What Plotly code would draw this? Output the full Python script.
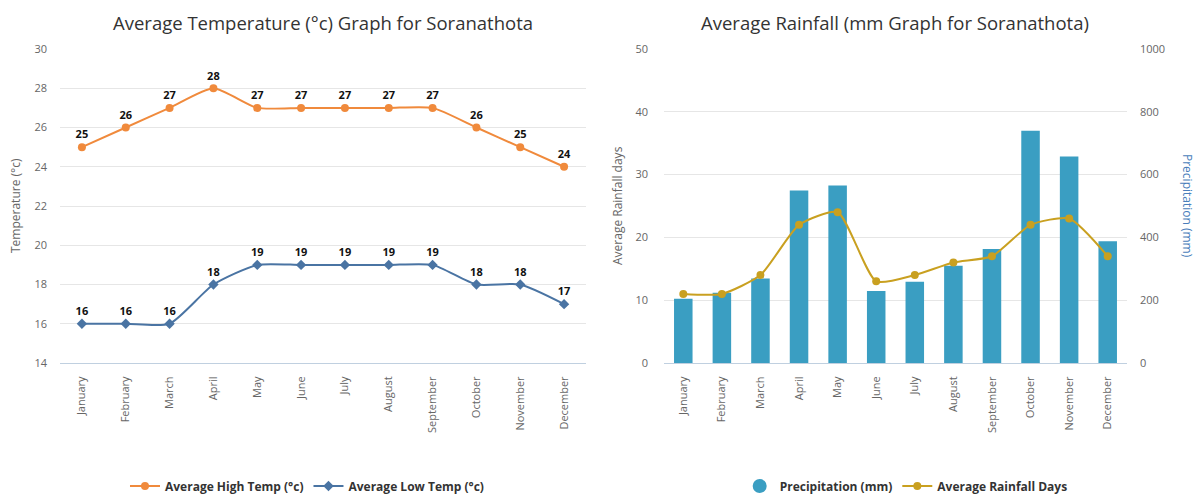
import plotly.graph_objects as go

months = ["January", "February", "March", "April", "May", "June", "July",
          "August", "September", "October", "November", "December"]
high_temp = [25, 26, 27, 28, 27, 27, 27, 27, 27, 26, 25, 24]
low_temp = [16, 16, 16, 18, 19, 19, 19, 19, 19, 18, 18, 17]
precip_mm = [205, 224, 269, 549, 565, 229, 259, 310, 363, 740, 658, 388]
rain_days = [11, 11, 14, 22, 24, 13, 14, 16, 17, 22, 23, 17]

temp_ticks = [14, 16, 18, 20, 22, 24, 26, 28, 30]
days_ticks = [0, 10, 20, 30, 40, 50]
precip_ticks = [0, 200, 400, 600, 800, 1000]

# page has an 8px body margin; figure sized so it fills the 1201x495 window
OFF = 8
W, H = 1201 - OFF, 495 - OFF
ML, MT = 60 - OFF, 49 - OFF
MR = W + OFF - 1127
MB = H + OFF - 363
pw = W - ML - MR
d1 = [0, (586 - 60) / pw]
d2 = [(664 - 60) / pw, 1]

ORANGE = "#F08A3C"
BLUE = "#4A74A3"
BAR = "#3A9EC2"
GOLD = "#C9A020"
FONT = "Open Sans"

fig = go.Figure()
fig.add_trace(go.Scatter(
    x=months, y=high_temp, name="Average High Temp (°c)", mode="lines+markers+text",
    line=dict(color=ORANGE, width=2, shape="spline", smoothing=0.6),
    marker=dict(color=ORANGE, size=8, symbol="circle"),
    text=[str(v) for v in high_temp], textposition="top center",
    textfont=dict(family=FONT, size=11, color="#111"),
    texttemplate="<b>%{text}</b>", xaxis="x", yaxis="y", legend="legend"))
fig.add_trace(go.Scatter(
    x=months, y=low_temp, name="Average Low Temp (°c)", mode="lines+markers+text",
    line=dict(color=BLUE, width=2, shape="spline", smoothing=0.6),
    marker=dict(color=BLUE, size=8, symbol="diamond"),
    text=[str(v) for v in low_temp], textposition="top center",
    textfont=dict(family=FONT, size=11, color="#111"),
    texttemplate="<b>%{text}</b>", xaxis="x", yaxis="y", legend="legend"))
# precipitation on the base (right-side) axis so the rainfall-days line draws over it
fig.add_trace(go.Bar(
    x=months, y=precip_mm, name="Precipitation (mm)", marker=dict(color=BAR, line=dict(width=0)),
    width=0.48, xaxis="x2", yaxis="y2", legend="legend2", showlegend=False))
# legend-only entry so the key shows a round swatch like the reference
fig.add_trace(go.Scatter(
    x=[months[0]], y=[None], name="Precipitation (mm)", mode="markers",
    marker=dict(color=BAR, size=14, symbol="circle"), xaxis="x2", yaxis="y2",
    legend="legend2", hoverinfo="skip"))
fig.add_trace(go.Scatter(
    x=months, y=rain_days, name="Average Rainfall Days", mode="lines+markers",
    line=dict(color=GOLD, width=2, shape="spline", smoothing=0.6),
    marker=dict(color=GOLD, size=8), xaxis="x2", yaxis="y3", legend="legend2"))

axis_font = dict(family=FONT, size=11, color="#666")
xcommon = dict(type="category", tickangle=-90, tickfont=axis_font, showgrid=False,
               showline=True, linecolor="#C0D0E0", ticks="", ticklen=0, fixedrange=True,
               range=[-0.5, 11.5], ticklabelstandoff=8, automargin=False)
ycommon = dict(showgrid=True, gridcolor="#E6E6E6", zeroline=False, tickfont=axis_font,
               showline=False, ticks="", fixedrange=True, automargin=False)

leg_font = dict(family=FONT, size=12, color="#333", weight="bold")
leg_y = (495 - 486) / H

fig.update_layout(
    width=W, height=H, autosize=False,
    margin=dict(l=ML, r=MR, t=MT, b=MB, autoexpand=False),
    paper_bgcolor="white", plot_bgcolor="white",
    font=dict(family=FONT, color="#333"),
    xaxis=dict(domain=d1, anchor="y", **xcommon),
    xaxis2=dict(domain=d2, anchor="y2", **xcommon),
    yaxis=dict(domain=[0, 1], anchor="x", range=[14, 30], tickvals=temp_ticks,
               ticklabelstandoff=12, **ycommon),
    yaxis2=dict(domain=[0, 1], anchor="x2", side="right", range=[0, 1000],
                tickvals=precip_ticks, ticklabelstandoff=12, **ycommon),
    yaxis3=dict(overlaying="y2", side="left", anchor="x2", range=[0, 50],
                tickvals=days_ticks, showgrid=False, zeroline=False, tickfont=axis_font,
                ticks="", fixedrange=True, ticklabelstandoff=15, automargin=False),
    showlegend=True,
    legend=dict(orientation="h", x=sum(d1) / 2 - 0.015, xanchor="center", yref="container",
                y=leg_y, yanchor="middle", font=leg_font, bgcolor="rgba(0,0,0,0)",
                itemwidth=30),
    legend2=dict(orientation="h", x=sum(d2) / 2 + 0.01, xanchor="center", yref="container",
                 y=leg_y, yanchor="middle", font=leg_font, bgcolor="rgba(0,0,0,0)",
                 itemwidth=30),
    annotations=[
        dict(text="Average Temperature (°c) Graph for Soranathota", xref="paper", yref="paper",
             x=sum(d1) / 2, xanchor="center", y=1, yanchor="middle", yshift=27,
             showarrow=False, font=dict(family=FONT, size=18.5, color="#333")),
        dict(text="Average Rainfall (mm Graph for Soranathota)", xref="paper", yref="paper",
             x=sum(d2) / 2, xanchor="center", y=1, yanchor="middle", yshift=27,
             showarrow=False, font=dict(family=FONT, size=18.5, color="#333")),
        dict(text="Temperature (°c)", xref="paper", yref="paper", x=0, xshift=-45, y=0.5,
             xanchor="center", yanchor="middle", textangle=-90, showarrow=False,
             font=dict(family=FONT, size=12, color="#666")),
        dict(text="Average Rainfall days", xref="paper", yref="paper", x=d2[0], xshift=-47,
             y=0.5, xanchor="center", yanchor="middle", textangle=-90, showarrow=False,
             font=dict(family=FONT, size=12, color="#666")),
        dict(text="Precipitation (mm)", xref="paper", yref="paper", x=1, xshift=61, y=0.5,
             xanchor="center", yanchor="middle", textangle=90, showarrow=False,
             font=dict(family=FONT, size=12, color="#4A7EBB")),
    ],
)

fig.write_html("out.html")
